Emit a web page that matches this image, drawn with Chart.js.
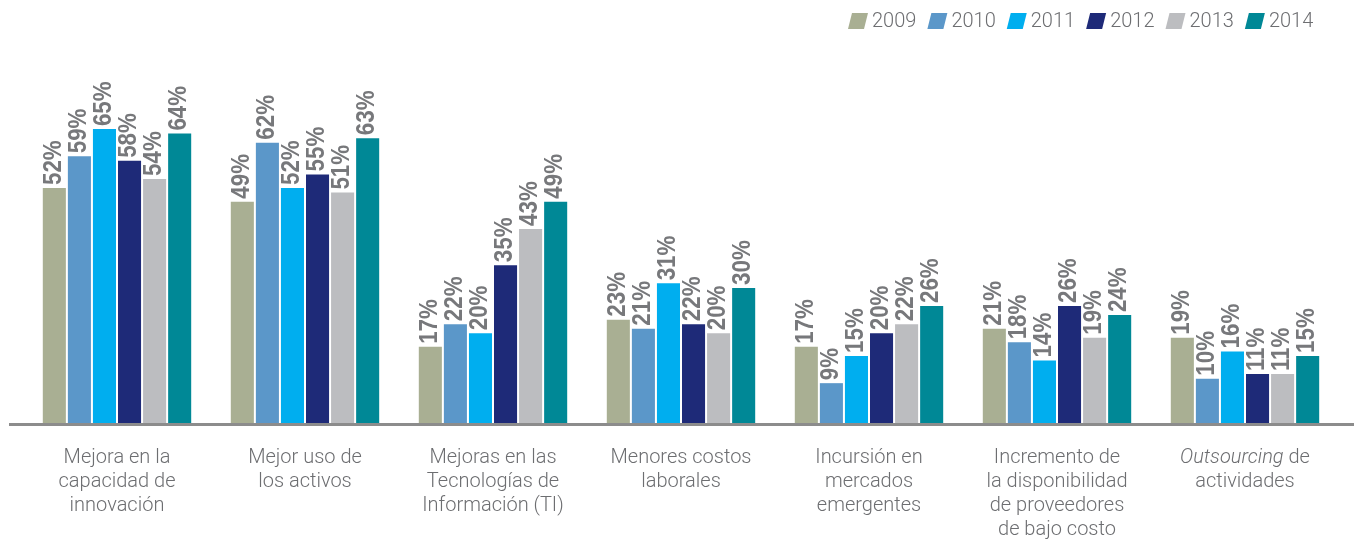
<!DOCTYPE html>
<html lang="es">
<head>
  <meta charset="UTF-8">
  <title>Motivos 2009-2014</title>
  <script src="https://cdn.jsdelivr.net/npm/chart.js"></script>
  <style>
    body { margin: 0; background: #fff; }
    canvas { display: block; }
  </style>
</head>
<body>
  <canvas id="chart" width="1354" height="539"></canvas>
  <script>
    const categories = [
      ['Mejora en la', 'capacidad de', 'innovación'],
      ['Mejor uso de', 'los activos'],
      ['Mejoras en las', 'Tecnologías de', 'Información (TI)'],
      ['Menores costos', 'laborales'],
      ['Incursión en', 'mercados', 'emergentes'],
      ['Incremento de', 'la disponibilidad', 'de proveedores', 'de bajo costo'],
      ['*Outsourcing* de', 'actividades']
    ];
    const years = ['2009', '2010', '2011', '2012', '2013', '2014'];
    const colors = ['#A9AF93', '#5B97C9', '#00AEEF', '#1E2A78', '#BCBDC0', '#008896'];
    const v2009 = [52, 49, 17, 23, 17, 21, 19];
    const v2010 = [59, 62, 22, 21, 9, 18, 10];
    const v2011 = [65, 52, 20, 31, 15, 14, 16];
    const v2012 = [58, 55, 35, 22, 20, 26, 11];
    const v2013 = [54, 51, 43, 20, 22, 19, 11];
    const v2014 = [64, 63, 49, 30, 26, 24, 15];
    const series = [v2009, v2010, v2011, v2012, v2013, v2014];

    const textGray = '#6d6e71';
    const labelFont = '300 20px Roboto, "Liberation Sans", sans-serif';

    // value labels, axis line, category labels and legend
    const decor = {
      id: 'decor',
      afterDatasetsDraw(chart) {
        const ctx = chart.ctx;
        const x = chart.scales.x, y = chart.scales.y;
        const y0 = y.getPixelForValue(0);

        // value labels (rotated, bold, condensed)
        ctx.save();
        ctx.fillStyle = '#77787b';
        ctx.font = 'bold 26px "Liberation Sans", Arial, sans-serif';
        ctx.textBaseline = 'middle';
        ctx.textAlign = 'left';
        chart.data.datasets.forEach((ds, i) => {
          chart.getDatasetMeta(i).data.forEach((bar, j) => {
            ctx.save();
            ctx.translate(bar.x - 1, bar.y - 3);
            ctx.rotate(-Math.PI / 2);
            ctx.scale(0.86, 1);
            ctx.fillText(ds.data[j] + '%', 0, 0);
            ctx.restore();
          });
        });
        ctx.restore();

        // axis line
        ctx.save();
        ctx.strokeStyle = '#8c8c8c';
        ctx.lineWidth = 3;
        ctx.beginPath();
        ctx.moveTo(9, y0 + 0.5);
        ctx.lineTo(chart.width, y0 + 0.5);
        ctx.stroke();
        ctx.restore();

        // category labels
        ctx.save();
        ctx.fillStyle = textGray;
        ctx.textBaseline = 'middle';
        categories.forEach((lines, i) => {
          const cx = x.getPixelForValue(i);
          lines.forEach((line, k) => {
            const ly = 458 + k * 24;
            const m = line.match(/^\*(.+)\*(.*)$/);
            if (m) {
              ctx.font = 'italic ' + labelFont;
              const w1 = ctx.measureText(m[1]).width;
              ctx.font = labelFont;
              const w2 = ctx.measureText(m[2]).width;
              let sx = cx - (w1 + w2) / 2;
              ctx.textAlign = 'left';
              ctx.font = 'italic ' + labelFont;
              ctx.fillText(m[1], sx, ly);
              ctx.font = labelFont;
              ctx.fillText(m[2], sx + w1, ly);
            } else {
              ctx.font = labelFont;
              ctx.textAlign = 'center';
              ctx.fillText(line, cx, ly);
            }
          });
        });
        ctx.restore();

        // legend with slanted swatches
        ctx.save();
        ctx.font = '300 20px Roboto, "Liberation Sans", sans-serif';
        ctx.textBaseline = 'middle';
        ctx.textAlign = 'left';
        let lx = 848;
        const ly = 21;
        years.forEach((yr, i) => {
          ctx.fillStyle = colors[i];
          ctx.beginPath();
          ctx.moveTo(lx + 4, ly - 8);
          ctx.lineTo(lx + 20, ly - 8);
          ctx.lineTo(lx + 16, ly + 8);
          ctx.lineTo(lx, ly + 8);
          ctx.closePath();
          ctx.fill();
          ctx.fillStyle = textGray;
          ctx.fillText(yr, lx + 24, ly + 1);
          lx += 24 + ctx.measureText(yr).width + 11;
        });
        ctx.restore();
      }
    };

    new Chart(document.getElementById('chart'), {
      type: 'bar',
      data: {
        labels: categories.map(c => c.join(' ')),
        datasets: years.map((yr, i) => ({
          label: yr,
          data: series[i],
          backgroundColor: colors[i],
          categoryPercentage: 0.8,
          barPercentage: 0.92
        }))
      },
      options: {
        responsive: false,
        animation: false,
        layout: { padding: { top: 61, bottom: 115, left: 23, right: 15 } },
        plugins: {
          legend: { display: false },
          tooltip: { enabled: false }
        },
        scales: {
          x: { display: false },
          y: { display: false, min: 0, max: 80 }
        }
      },
      plugins: [decor]
    });
  </script>
</body>
</html>
